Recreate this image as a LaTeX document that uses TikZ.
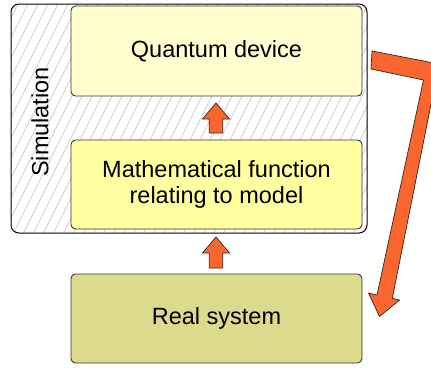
\documentclass[tikz,border=0pt]{standalone}
\usepackage{fontspec}
\setmainfont{Liberation Sans}
\begin{document}
\begin{tikzpicture}[x=1pt,y=-1pt,
  box/.style={draw=black!80, line width=0.9pt, rounded corners=4.5pt, inner sep=0pt,
    text=black, font=\fontsize{23.5}{26.5}\selectfont, align=center},
  hatchline/.style={draw=black!14, line width=1.3pt},
]
\definecolor{qfill}{RGB}{255,255,208}
\definecolor{mfill}{RGB}{255,255,160}
\definecolor{rfill}{RGB}{220,218,140}
\definecolor{arrowfill}{RGB}{250,102,48}
\tikzset{redarrow/.style={fill=arrowfill, draw=black!70!brown, line width=0.7pt, line join=miter}}
\useasboundingbox (0,0) rectangle (431,368);

% simulation frame with diagonal hatching
\begin{scope}
  \clip[rounded corners=8pt] (11,4) rectangle (367,233);
  \foreach \x in {-130,-120,...,480}
    \draw[hatchline] (\x,240) -- ++(118,-236);
\end{scope}
\draw[black, line width=1pt, rounded corners=8pt] (11,4) rectangle (367,233);
\node[rotate=90, font=\fontsize{23.5}{26.5}\selectfont] (sim) at (40,122) {Simulation};

% the three boxes
\node[box, fill=qfill, minimum width=291pt, minimum height=90pt] (qd) at (216.5,51) {Quantum device};
\node[box, fill=mfill, minimum width=291pt, minimum height=89pt] (mf) at (216.5,184.5)
  {Mathematical function\\relating to model};
\node[box, fill=rfill, minimum width=291pt, minimum height=89pt] (rs) at (216.5,318.5) {Real system};

% small block arrows between the boxes (base y / tip y)
\foreach \b/\t in {133/103, 268/237}{
  \draw[redarrow] (209.3,\b) -- (209.3,{\t+16}) -- (202.5,{\t+16}) -- (216,\t)
    -- (229.5,{\t+16}) -- (222.7,{\t+16}) -- (222.7,\b) -- cycle;
}

% bent feedback arrow from the quantum device down to the real system
\draw[redarrow] (372,51) -- (439,64) -- (392.3,298.4) -- (399.5,300) -- (379.5,316.5)
  -- (368.5,293) -- (377,295) -- (423.5,80) -- (371,69) -- cycle;
\end{tikzpicture}
\end{document}
